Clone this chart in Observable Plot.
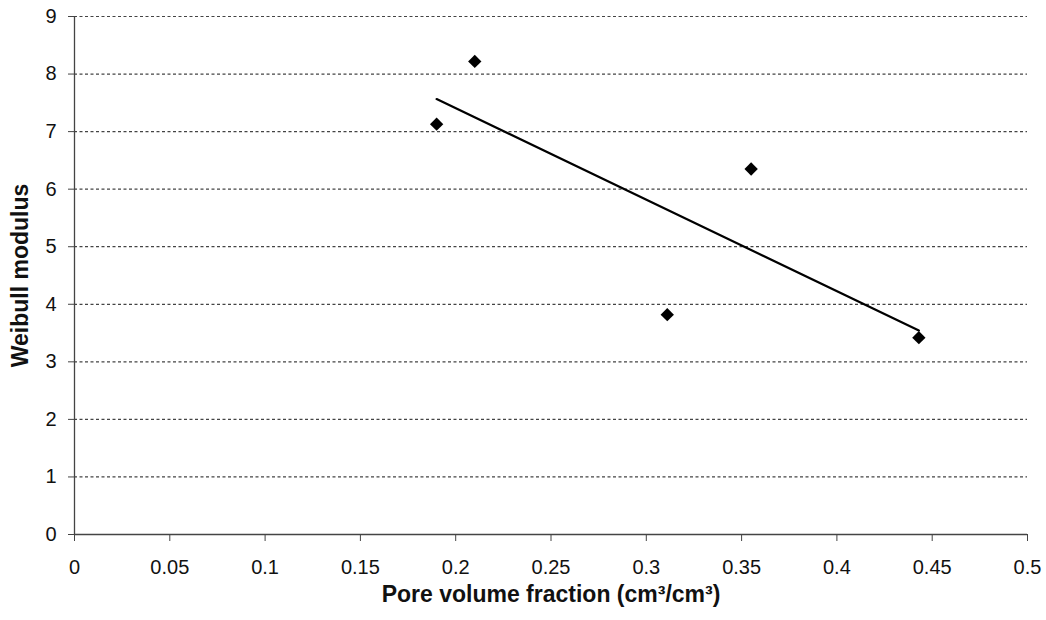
<!DOCTYPE html>
<html>
<head>
<meta charset="utf-8">
<script src="https://cdn.jsdelivr.net/npm/d3@7"></script>
<script src="https://cdn.jsdelivr.net/npm/@observablehq/plot@0.6"></script>
<style>
  html, body { margin: 0; padding: 0; background: #fff; }
  #chart svg { display: block; }
</style>
</head>
<body>
<div id="chart"></div>
<script>
// Pore volume fraction (cm³/cm³) of each sample
const poreFraction = [0.19, 0.21, 0.311, 0.355, 0.443];
// Weibull modulus measured for each sample
const weibullModulus = [7.13, 8.22, 3.82, 6.35, 3.42];
// Axis ticks
const xTicks = [0, 0.05, 0.1, 0.15, 0.2, 0.25, 0.3, 0.35, 0.4, 0.45, 0.5];
const yTicks = [0, 1, 2, 3, 4, 5, 6, 7, 8, 9];
const gridLines = [1, 2, 3, 4, 5, 6, 7, 8, 9];

const samples = poreFraction.map((x, i) => ({x, y: weibullModulus[i]}));
const fmt = d => String(+d.toFixed(2));

const chart = Plot.plot({
  width: 1046,
  height: 620,
  marginLeft: 74,
  marginRight: 19,
  marginTop: 16,
  marginBottom: 86,
  style: {fontFamily: "'Liberation Sans', Arial, sans-serif", fontSize: "20px", color: "#111", background: "#fff"},
  x: {domain: [0, 0.5]},
  y: {domain: [0, 9]},
  marks: [
    Plot.ruleY(gridLines, {stroke: "#444", strokeWidth: 1.2, strokeDasharray: "3,2.5"}),
    Plot.axisY(yTicks, {tickSize: 6, tickPadding: 12, label: null, tickFormat: fmt, stroke: "#444", fontSize: 20, fill: "#111"}),
    Plot.axisX(xTicks, {tickSize: 7, tickPadding: 18, label: null, tickFormat: fmt, stroke: "#444", fontSize: 20, fill: "#111"}),
    Plot.ruleX([0], {stroke: "#444", strokeWidth: 1.3}),
    Plot.ruleY([0], {stroke: "#444", strokeWidth: 1.3}),
    // least-squares trend line over the sample range
    Plot.linearRegressionY(samples, {x: "x", y: "y", stroke: "#000", strokeWidth: 2.2, ci: 0}),
    Plot.dot(samples, {x: "x", y: "y", symbol: "diamond2", r: 6, fill: "#000", stroke: "none"}),
    Plot.text(["Weibull modulus"], {frameAnchor: "left", textAnchor: "middle", rotate: -90, dx: -54, fontWeight: "bold", fontSize: 23, fill: "#111"}),
    Plot.text(["Pore volume fraction (cm³/cm³)"], {frameAnchor: "bottom", lineAnchor: "middle", dy: 60, fontWeight: "bold", fontSize: 23, fill: "#111"})
  ]
});
document.getElementById("chart").appendChild(chart);
</script>
</body>
</html>
